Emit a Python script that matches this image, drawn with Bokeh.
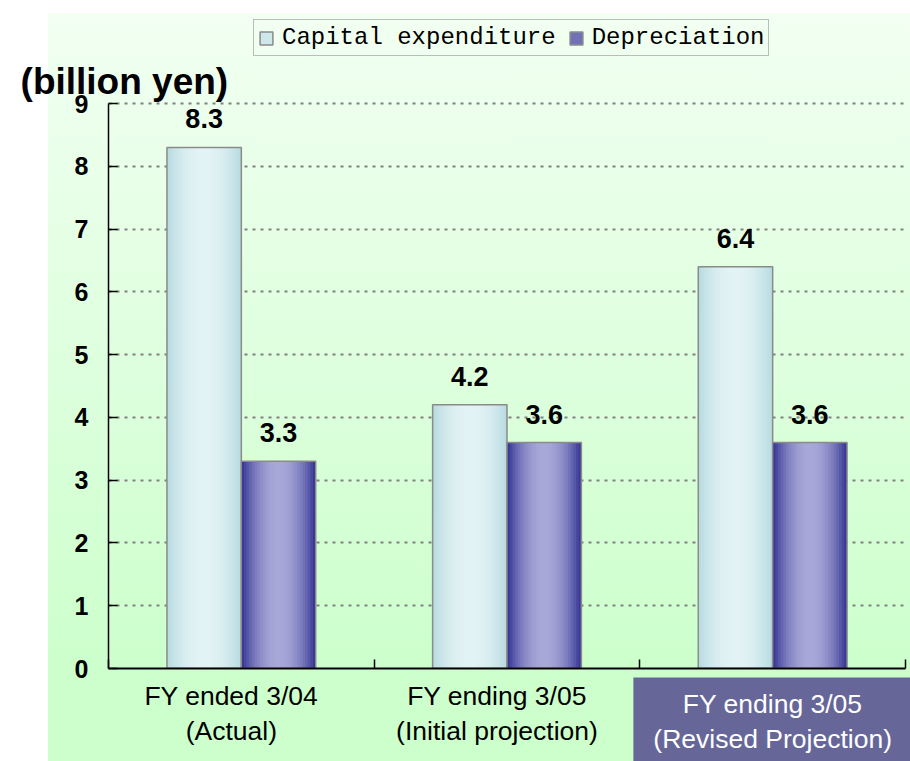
from bokeh.plotting import figure
from bokeh.models import (ColumnDataSource, Range1d, FixedTicker, LabelSet,
                          Legend, LegendItem)
from bokeh.core.properties import value
from bokeh.transform import dodge
from bokeh.embed import file_html
from bokeh.resources import INLINE

# ---------------- data ----------------
categories_line1 = ["FY ended 3/04", "FY ending 3/05", "FY ending 3/05"]
categories_line2 = ["(Actual)", "(Initial projection)", "(Revised Projection)"]
capex = [8.3, 4.2, 6.4]
depreciation = [3.3, 3.6, 3.6]
y_ticks = [0, 1, 2, 3, 4, 5, 6, 7, 8, 9]
series_names = ["Capital expenditure", "Depreciation"]
unit_label = "(billion yen)"
highlighted = 2  # index of the highlighted category

n = len(capex)
group_x = [i + 0.5 for i in range(n)]
src = ColumnDataSource(dict(
    x=group_x, capex=capex, dep=depreciation,
    capex_txt=[f"{v:.1f}" for v in capex],
    dep_txt=[f"{v:.1f}" for v in depreciation],
))
cat_text = [a + "\n" + b for a, b in zip(categories_line1, categories_line2)]
cat_plain = ColumnDataSource(dict(
    x=[group_x[i] for i in range(n) if i != highlighted],
    text=[cat_text[i] for i in range(n) if i != highlighted]))
cat_hi = ColumnDataSource(dict(x=[group_x[highlighted]], text=[cat_text[highlighted]]))

# layout constants (pixels)
AXIS_PX = 565          # height of the 0..9 value axis
FRAME_H = 668          # frame extends up to the canvas top (legend lives inside)
y_top = y_ticks[-1] * FRAME_H / AXIS_PX

p = figure(frame_width=797, frame_height=FRAME_H,
           x_range=Range1d(0, n), y_range=Range1d(0, y_top),
           output_backend="svg", toolbar_location=None,
           min_border_left=108, min_border_right=5,
           min_border_top=0, min_border_bottom=93)
p.border_fill_color = None
p.background_fill_color = None
p.outline_line_color = None
p.styles = {
    "background": "linear-gradient(to bottom, #f2fff2 0px, #ccffcc 655px) 48px 13px / calc(100% - 48px) calc(100% - 13px) no-repeat, #ffffff"
}

# ---------------- axes / grid ----------------
p.xgrid.visible = False
p.ygrid.ticker = FixedTicker(ticks=y_ticks[1:])
p.ygrid.grid_line_color = "#808080"
p.ygrid.grid_line_dash = "3 5"
p.ygrid.grid_line_width = 2

p.yaxis.ticker = FixedTicker(ticks=y_ticks)
p.yaxis.bounds = (y_ticks[0], y_ticks[-1])
p.yaxis.major_tick_in = 9
p.yaxis.major_tick_out = 0
p.yaxis.minor_tick_line_color = None
p.yaxis.axis_line_color = "#000000"
p.yaxis.axis_line_width = 1.5
p.yaxis.major_tick_line_color = "#000000"
p.yaxis.major_tick_line_width = 1.5
p.yaxis.major_label_standoff = 20
p.yaxis.major_label_text_font = "Liberation Sans"
p.yaxis.major_label_text_font_style = "bold"
p.yaxis.major_label_text_font_size = "25px"
p.yaxis.major_label_text_color = "#000000"

x_bounds = list(range(n + 1))
p.xaxis.ticker = FixedTicker(ticks=x_bounds)
p.xaxis.major_label_overrides = {t: "" for t in x_bounds}
p.xaxis.major_tick_in = 9
p.xaxis.major_tick_out = 0
p.xaxis.minor_tick_line_color = None
p.xaxis.axis_line_color = "#000000"
p.xaxis.axis_line_width = 2
p.xaxis.major_tick_line_color = "#000000"
p.xaxis.major_tick_line_width = 1.5

# ---------------- bars (gradient by layering) ----------------
def mix(c1, c2, t):
    return "#%02x%02x%02x" % tuple(int(round(a + (b - a) * t)) for a, b in zip(c1, c2))

N_LAYERS = 14
bar_w = 0.28
off = 0.14
specs = [
    ("capex", -off, (0xb6, 0xda, 0xe0), (0xe3, 0xf3, 0xf5)),
    ("dep", off, (0x30, 0x30, 0x92), (0xa8, 0xa8, 0xd8)),
]
legend_items = []
for idx, (field, dx, edge, center) in enumerate(specs):
    layers = []
    for k in range(N_LAYERS):
        frac = 1 - k / N_LAYERS
        d = 1 - (k + 0.5) / N_LAYERS
        t = 1 - d ** 2
        r = p.vbar(x=dodge("x", dx, range=p.x_range), top=field, bottom=0,
                   width=bar_w * frac, source=src,
                   fill_color=mix(edge, center, t), line_color=None)
        layers.append(r)
    outline = p.vbar(x=dodge("x", dx, range=p.x_range), top=field, bottom=0,
                     width=bar_w, source=src, fill_color=None,
                     line_color="#8a8a8a", line_width=1.5)
    legend_items.append(LegendItem(label=series_names[idx],
                                   renderers=[layers[N_LAYERS // 3], outline]))

# value labels
for field, txt, dx in [("capex", "capex_txt", -off), ("dep", "dep_txt", off)]:
    p.add_layout(LabelSet(x=dodge("x", dx, range=p.x_range), y=field, text=txt,
                          source=src, text_align="center", text_baseline="alphabetic",
                          y_offset=19, text_font=value("Liberation Sans"),
                          text_font_style="bold", text_font_size="27px",
                          text_color="#000000"))

# category labels (drawn below the frame, overlay level)
p.text(x="x", y=-0.207, text="text", source=cat_plain, level="overlay",
       x_offset=-10, text_align="center", text_baseline="top",
       text_font=value("Liberation Sans"), text_font_size="26.5px",
       text_color="#000000", text_line_height=1.15)
p.text(x="x", y=-0.143, text="text", source=cat_hi, level="overlay",
       text_align="center", text_baseline="top",
       text_font=value("Liberation Sans"), text_font_size="26.5px",
       text_color="#ffffff", text_line_height=1.15,
       background_fill_color="#666699", padding=(20, 12))

# unit label
p.text(x=[-0.331], y=[9.35], text=[unit_label], level="overlay",
       text_align="left", text_baseline="alphabetic",
       text_font=value("Liberation Sans"), text_font_style="bold",
       text_font_size="37px", text_color="#000000")

# legend (inside the tall frame, above the value axis)
legend = Legend(items=legend_items, orientation="horizontal", location=(145, 612),
                label_text_font="Liberation Mono", label_text_font_size="24px",
                label_text_color="#000000", glyph_width=16, glyph_height=16,
                label_standoff=8, spacing=12, padding=4, margin=0,
                border_line_color="#808080", border_line_width=1.5,
                background_fill_color=None)
p.add_layout(legend)

open("out.html", "w").write(file_html(p, INLINE))
